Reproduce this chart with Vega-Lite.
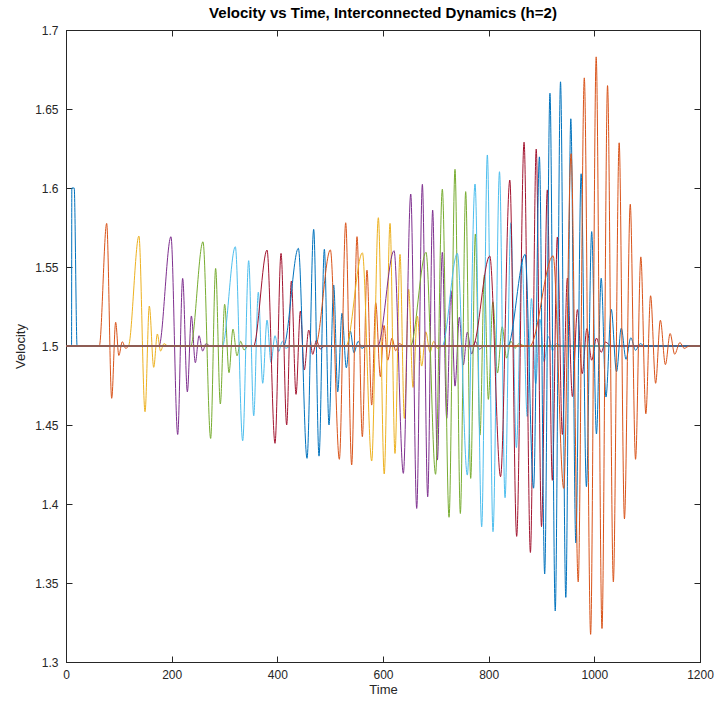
{
"$schema": "https://vega.github.io/schema/vega-lite/v6.json",
"width": 634, "height": 632,
"autosize": {"type": "none"},
"padding": {"left": 66, "top": 30, "right": 17, "bottom": 46},
"background": "white",
"config": {"view": {"stroke": "#262626", "strokeWidth": 1}, "font": "Liberation Sans"},
"title": {"text": "Velocity vs Time, Interconnected Dynamics (h=2)", "fontSize": 15, "fontWeight": "bold", "color": "#000000", "anchor": "middle", "offset": 3, "font": "Liberation Sans"},
"data": {"values": [
{"s":1,"t":0,"v":1.5},{"s":1,"t":10.5,"v":1.5},{"s":1,"t":11,"v":1.6},{"s":1,"t":15.5,"v":1.6},{"s":1,"t":21,"v":1.5},{"s":1,"t":1200,"v":1.5},
{"s":2,"t":0,"v":1.5},{"s":2,"t":63,"v":1.5},{"s":2,"t":77,"v":1.5776},{"s":2,"t":86.5,"v":1.4669},{"s":2,"t":94,"v":1.515},{"s":2,"t":100,"v":1.494},{"s":2,"t":106.5,"v":1.5027},{"s":2,"t":113,"v":1.4985},{"s":2,"t":120,"v":1.5},{"s":2,"t":1200,"v":1.5},
{"s":3,"t":0,"v":1.5},{"s":3,"t":118,"v":1.5},{"s":3,"t":138,"v":1.5696},{"s":3,"t":149.6,"v":1.4584},{"s":3,"t":157.7,"v":1.5253},{"s":3,"t":166,"v":1.4865},{"s":3,"t":172.9,"v":1.5076},{"s":3,"t":179,"v":1.4968},{"s":3,"t":185.5,"v":1.5015},{"s":3,"t":193,"v":1.5},{"s":3,"t":1200,"v":1.5},
{"s":4,"t":0,"v":1.5},{"s":4,"t":176,"v":1.5},{"s":4,"t":198.7,"v":1.5692},{"s":4,"t":211.4,"v":1.444},{"s":4,"t":220.8,"v":1.5428},{"s":4,"t":229.7,"v":1.471},{"s":4,"t":237.3,"v":1.519},{"s":4,"t":244.8,"v":1.4894},{"s":4,"t":251.8,"v":1.5065},{"s":4,"t":258.7,"v":1.4968},{"s":4,"t":265,"v":1.5015},{"s":4,"t":273,"v":1.5},{"s":4,"t":1200,"v":1.5},
{"s":5,"t":0,"v":1.5},{"s":5,"t":236,"v":1.5},{"s":5,"t":259.3,"v":1.566},{"s":5,"t":273.8,"v":1.4415},{"s":5,"t":283.2,"v":1.5491},{"s":5,"t":292.1,"v":1.4633},{"s":5,"t":300.3,"v":1.5264},{"s":5,"t":308.5,"v":1.4831},{"s":5,"t":316,"v":1.5107},{"s":5,"t":323.7,"v":1.4938},{"s":5,"t":330.6,"v":1.503},{"s":5,"t":337,"v":1.4975},{"s":5,"t":345,"v":1.5},{"s":5,"t":1200,"v":1.5},
{"s":6,"t":0,"v":1.5},{"s":6,"t":296,"v":1.5},{"s":6,"t":320.5,"v":1.5628},{"s":6,"t":334.4,"v":1.44},{"s":6,"t":345.8,"v":1.554},{"s":6,"t":355.3,"v":1.4558},{"s":6,"t":364,"v":1.534},{"s":6,"t":372.3,"v":1.4764},{"s":6,"t":380.5,"v":1.5164},{"s":6,"t":388,"v":1.4897},{"s":6,"t":395.6,"v":1.5065},{"s":6,"t":402.5,"v":1.4965},{"s":6,"t":409.5,"v":1.503},{"s":6,"t":416,"v":1.4985},{"s":6,"t":425,"v":1.5},{"s":6,"t":1200,"v":1.5},
{"s":7,"t":0,"v":1.5},{"s":7,"t":355,"v":1.5},{"s":7,"t":380.5,"v":1.5607},{"s":7,"t":395.6,"v":1.4384},{"s":7,"t":407,"v":1.5586},{"s":7,"t":417.7,"v":1.45},{"s":7,"t":426.5,"v":1.5411},{"s":7,"t":435.4,"v":1.4694},{"s":7,"t":443.6,"v":1.5221},{"s":7,"t":451,"v":1.4848},{"s":7,"t":459.4,"v":1.5101},{"s":7,"t":467,"v":1.4947},{"s":7,"t":474,"v":1.5036},{"s":7,"t":481,"v":1.4981},{"s":7,"t":490,"v":1.5},{"s":7,"t":1200,"v":1.5},
{"s":8,"t":0,"v":1.5},{"s":8,"t":412,"v":1.5},{"s":8,"t":439.8,"v":1.5618},{"s":8,"t":456.2,"v":1.4289},{"s":8,"t":468.8,"v":1.5738},{"s":8,"t":478.9,"v":1.4303},{"s":8,"t":489,"v":1.5612},{"s":8,"t":497.8,"v":1.45},{"s":8,"t":506.7,"v":1.5386},{"s":8,"t":514.3,"v":1.471},{"s":8,"t":522.4,"v":1.5207},{"s":8,"t":530.6,"v":1.4862},{"s":8,"t":538.2,"v":1.5095},{"s":8,"t":545,"v":1.4957},{"s":8,"t":553,"v":1.503},{"s":8,"t":560,"v":1.4985},{"s":8,"t":568,"v":1.5},{"s":8,"t":1200,"v":1.5},
{"s":9,"t":0,"v":1.5},{"s":9,"t":472,"v":1.5},{"s":9,"t":500.4,"v":1.5608},{"s":9,"t":517.4,"v":1.4283},{"s":9,"t":529.4,"v":1.578},{"s":9,"t":540.7,"v":1.4247},{"s":9,"t":550.8,"v":1.5692},{"s":9,"t":560.9,"v":1.4426},{"s":9,"t":569.7,"v":1.548},{"s":9,"t":578.6,"v":1.4626},{"s":9,"t":586.2,"v":1.5274},{"s":9,"t":595,"v":1.4806},{"s":9,"t":602,"v":1.513},{"s":9,"t":609,"v":1.491},{"s":9,"t":617,"v":1.505},{"s":9,"t":624,"v":1.497},{"s":9,"t":631,"v":1.5015},{"s":9,"t":640,"v":1.5},{"s":9,"t":1200,"v":1.5},
{"s":10,"t":0,"v":1.5},{"s":10,"t":530,"v":1.5},{"s":10,"t":561,"v":1.559},{"s":10,"t":578.6,"v":1.4272},{"s":10,"t":591.2,"v":1.5812},{"s":10,"t":602.3,"v":1.419},{"s":10,"t":613.3,"v":1.5776},{"s":10,"t":622.7,"v":1.432},{"s":10,"t":632.2,"v":1.558},{"s":10,"t":640.4,"v":1.4542},{"s":10,"t":648.6,"v":1.5359},{"s":10,"t":656.8,"v":1.4738},{"s":10,"t":665,"v":1.519},{"s":10,"t":673.2,"v":1.4873},{"s":10,"t":681,"v":1.509},{"s":10,"t":689,"v":1.496},{"s":10,"t":696,"v":1.503},{"s":10,"t":703,"v":1.4985},{"s":10,"t":712,"v":1.5},{"s":10,"t":1200,"v":1.5},
{"s":11,"t":0,"v":1.5},{"s":11,"t":590,"v":1.5},{"s":11,"t":620.9,"v":1.5603},{"s":11,"t":638.5,"v":1.4194},{"s":11,"t":652.5,"v":1.5962},{"s":11,"t":663.8,"v":1.3972},{"s":11,"t":674.5,"v":1.6023},{"s":11,"t":684.6,"v":1.4046},{"s":11,"t":694,"v":1.586},{"s":11,"t":702.9,"v":1.4278},{"s":11,"t":712.3,"v":1.5593},{"s":11,"t":720.6,"v":1.4542},{"s":11,"t":728.7,"v":1.535},{"s":11,"t":736.3,"v":1.4746},{"s":11,"t":744.5,"v":1.5182},{"s":11,"t":752,"v":1.488},{"s":11,"t":759.6,"v":1.5087},{"s":11,"t":767.8,"v":1.4949},{"s":11,"t":775,"v":1.503},{"s":11,"t":782,"v":1.498},{"s":11,"t":792,"v":1.5},{"s":11,"t":1200,"v":1.5},
{"s":12,"t":0,"v":1.5},{"s":12,"t":652,"v":1.5},{"s":12,"t":681.4,"v":1.5593},{"s":12,"t":699.5,"v":1.4188},{"s":12,"t":712.3,"v":1.5992},{"s":12,"t":725,"v":1.3916},{"s":12,"t":736.3,"v":1.6118},{"s":12,"t":746.4,"v":1.394},{"s":12,"t":756.5,"v":1.5977},{"s":12,"t":766,"v":1.4162},{"s":12,"t":774.8,"v":1.5709},{"s":12,"t":783.6,"v":1.4436},{"s":12,"t":791.8,"v":1.5449},{"s":12,"t":799.4,"v":1.4662},{"s":12,"t":808,"v":1.528},{"s":12,"t":816.6,"v":1.4829},{"s":12,"t":825.6,"v":1.5122},{"s":12,"t":834,"v":1.4923},{"s":12,"t":842,"v":1.503},{"s":12,"t":850,"v":1.4985},{"s":12,"t":857,"v":1.5015},{"s":12,"t":868,"v":1.5},{"s":12,"t":1200,"v":1.5},
{"s":13,"t":0,"v":1.5},{"s":13,"t":712,"v":1.5},{"s":13,"t":740.7,"v":1.5586},{"s":13,"t":759.6,"v":1.4183},{"s":13,"t":774.2,"v":1.6025},{"s":13,"t":786.8,"v":1.3856},{"s":13,"t":797.5,"v":1.6209},{"s":13,"t":808.2,"v":1.3825},{"s":13,"t":820.5,"v":1.6103},{"s":13,"t":831,"v":1.404},{"s":13,"t":842,"v":1.578},{"s":13,"t":852.5,"v":1.4357},{"s":13,"t":863,"v":1.5552},{"s":13,"t":873,"v":1.4554},{"s":13,"t":881,"v":1.53},{"s":13,"t":889,"v":1.476},{"s":13,"t":897,"v":1.517},{"s":13,"t":905,"v":1.49},{"s":13,"t":913,"v":1.506},{"s":13,"t":921,"v":1.497},{"s":13,"t":928,"v":1.5015},{"s":13,"t":938,"v":1.5},{"s":13,"t":1200,"v":1.5},
{"s":14,"t":0,"v":1.5},{"s":14,"t":770,"v":1.5},{"s":14,"t":802,"v":1.557},{"s":14,"t":822.5,"v":1.4173},{"s":14,"t":840,"v":1.605},{"s":14,"t":853,"v":1.3795},{"s":14,"t":867,"v":1.629},{"s":14,"t":879,"v":1.3693},{"s":14,"t":890,"v":1.6246},{"s":14,"t":900,"v":1.3857},{"s":14,"t":911,"v":1.5988},{"s":14,"t":920.5,"v":1.415},{"s":14,"t":930,"v":1.569},{"s":14,"t":939.5,"v":1.444},{"s":14,"t":949,"v":1.543},{"s":14,"t":958.5,"v":1.468},{"s":14,"t":968,"v":1.523},{"s":14,"t":977,"v":1.4825},{"s":14,"t":986,"v":1.511},{"s":14,"t":995,"v":1.491},{"s":14,"t":1004,"v":1.505},{"s":14,"t":1013,"v":1.496},{"s":14,"t":1021,"v":1.5025},{"s":14,"t":1032,"v":1.5},{"s":14,"t":1200,"v":1.5},
{"s":15,"t":0,"v":1.5},{"s":15,"t":836,"v":1.5},{"s":15,"t":869,"v":1.558},{"s":15,"t":885,"v":1.41},{"s":15,"t":896,"v":1.6197},{"s":15,"t":906,"v":1.3557},{"s":15,"t":916,"v":1.66},{"s":15,"t":926,"v":1.3323},{"s":15,"t":936,"v":1.6672},{"s":15,"t":946,"v":1.3409},{"s":15,"t":955.5,"v":1.6438},{"s":15,"t":965,"v":1.3754},{"s":15,"t":975,"v":1.609},{"s":15,"t":985,"v":1.411},{"s":15,"t":995,"v":1.5724},{"s":15,"t":1004,"v":1.4443},{"s":15,"t":1013,"v":1.5429},{"s":15,"t":1022,"v":1.4677},{"s":15,"t":1032,"v":1.5232},{"s":15,"t":1042,"v":1.4837},{"s":15,"t":1051,"v":1.5113},{"s":15,"t":1060,"v":1.4916},{"s":15,"t":1069,"v":1.5052},{"s":15,"t":1078,"v":1.4973},{"s":15,"t":1087,"v":1.5015},{"s":15,"t":1095,"v":1.5},{"s":15,"t":1200,"v":1.5},
{"s":16,"t":0,"v":1.5},{"s":16,"t":878,"v":1.5},{"s":16,"t":922,"v":1.5571},{"s":16,"t":942,"v":1.4099},{"s":16,"t":956,"v":1.6217},{"s":16,"t":969.5,"v":1.3507},{"s":16,"t":981,"v":1.6697},{"s":16,"t":993,"v":1.3175},{"s":16,"t":1003.5,"v":1.683},{"s":16,"t":1014.5,"v":1.3212},{"s":16,"t":1025,"v":1.6648},{"s":16,"t":1036,"v":1.3507},{"s":16,"t":1047,"v":1.6286},{"s":16,"t":1057,"v":1.3906},{"s":16,"t":1068,"v":1.5897},{"s":16,"t":1078,"v":1.4283},{"s":16,"t":1088,"v":1.5564},{"s":16,"t":1097.5,"v":1.4571},{"s":16,"t":1106.5,"v":1.5318},{"s":16,"t":1116,"v":1.4764},{"s":16,"t":1125,"v":1.5163},{"s":16,"t":1134.5,"v":1.4882},{"s":16,"t":1143.5,"v":1.5079},{"s":16,"t":1152,"v":1.4948},{"s":16,"t":1162,"v":1.5022},{"s":16,"t":1170,"v":1.4985},{"s":16,"t":1180,"v":1.5},{"s":16,"t":1200,"v":1.5}
]},
"layer": [
{"mark": {"type": "line", "interpolate": "monotone", "strokeWidth": 1},
 "encoding": {
  "x": {"field": "t", "type": "quantitative", "scale": {"domain": [0, 1200], "nice": false},
        "axis": {"title": "Time", "values": [0,200,400,600,800,1000,1200], "format": "d", "grid": false, "labelFlush": false, "domainColor": "#262626", "tickColor": "#262626", "tickSize": -6, "labelPadding": 13, "labelFontSize": 12, "labelColor": "#262626", "titleFontSize": 13, "titleFontWeight": "normal", "titleColor": "#262626", "titlePadding": 3, "labelFont": "Liberation Sans", "titleFont": "Liberation Sans"}},
  "y": {"field": "v", "type": "quantitative", "scale": {"domain": [1.3, 1.7], "nice": false, "zero": false},
        "axis": {"title": "Velocity", "values": [1.3,1.35,1.4,1.45,1.5,1.55,1.6,1.65,1.7], "format": ".2~f", "grid": false, "labelFlush": false, "domainColor": "#262626", "tickColor": "#262626", "tickSize": -6, "labelPadding": 14, "labelFontSize": 12, "labelColor": "#262626", "titleFontSize": 13, "titleFontWeight": "normal", "titleColor": "#262626", "titlePadding": 7, "labelFont": "Liberation Sans", "titleFont": "Liberation Sans"}},
  "color": {"field": "s", "type": "nominal", "legend": null,
            "scale": {"domain": [1,2,3,4,5,6,7,8,9,10,11,12,13,14,15,16],
                      "range": ["#0072BD","#D95319","#EDB120","#7E2F8E","#77AC30","#4DBEEE","#A2142F","#0072BD","#D95319","#EDB120","#7E2F8E","#77AC30","#4DBEEE","#A2142F","#0072BD","#D95319"]}}
 }},
{"mark": {"type": "point", "opacity": 0},
 "encoding": {
  "x": {"field": "t", "type": "quantitative", "axis": {"orient": "top", "values": [0,200,400,600,800,1000,1200], "labels": false, "title": null, "grid": false, "domainColor": "#262626", "tickColor": "#262626", "tickSize": -6}},
  "y": {"field": "v", "type": "quantitative", "axis": {"orient": "right", "values": [1.3,1.35,1.4,1.45,1.5,1.55,1.6,1.65,1.7], "labels": false, "title": null, "grid": false, "domainColor": "#262626", "tickColor": "#262626", "tickSize": -6}}
 }}
],
"resolve": {"axis": {"x": "independent", "y": "independent"}}
}
